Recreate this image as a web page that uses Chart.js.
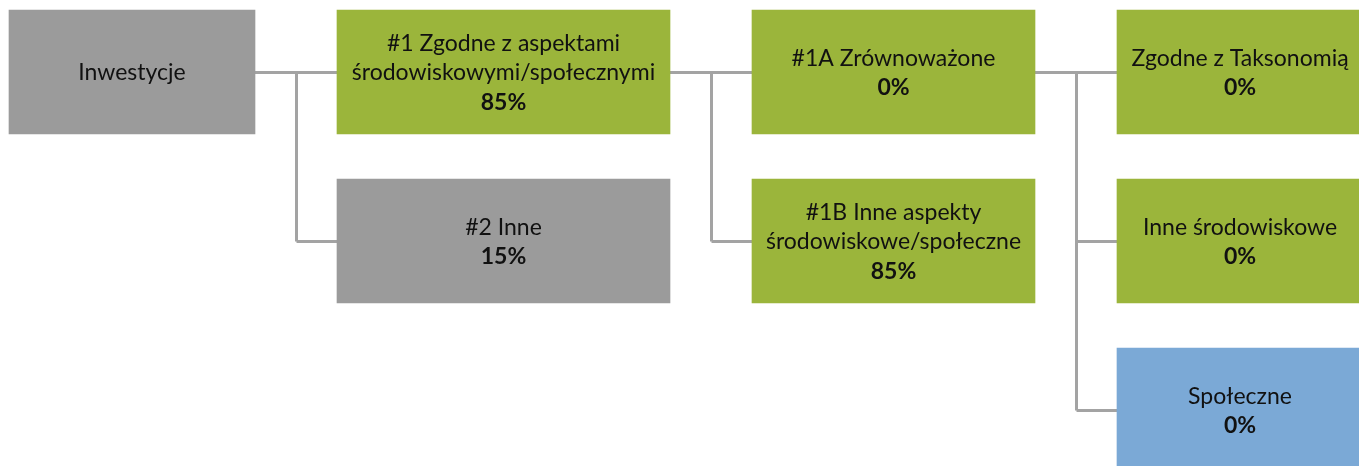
<!DOCTYPE html>
<html>
<head>
<meta charset="utf-8">
<script src="https://cdn.jsdelivr.net/npm/chart.js@4/dist/chart.umd.min.js"></script>
<style>
  body { margin: 0; background: #fff; }
  #wrap { width: 1359px; height: 466px; }
</style>
</head>
<body>
<div id="wrap"><canvas id="tree"></canvas></div>
<script>
// tree nodes
const names = [
  'Inwestycje',
  '#1 Zgodne z aspektami\nśrodowiskowymi/społecznymi',
  '#2 Inne',
  '#1A Zrównoważone',
  '#1B Inne aspekty\nśrodowiskowe/społeczne',
  'Zgodne z Taksonomią',
  'Inne środowiskowe',
  'Społeczne'
];
const shares = [null, 85, 15, 0, 85, 0, 0, 0];
const parents = [-1, 0, 0, 1, 1, 3, 3, 3];
const kinds = ['other', 'esg', 'other', 'esg', 'esg', 'esg', 'esg', 'social'];

// layout (per tree level)
const colLeft = [9, 337, 752, 1117];
const colWidth = [246, 333, 283, 246];
const colors = { other: '#9B9B9B', esg: '#9BB53B', social: '#7BA9D6' };
const lineColor = '#A3A3A3';
const font = 'Lato, "Open Sans", sans-serif';
const fontSize = 23;
const lineHeight = 29.5;

// depth and row of each node
const depth = [], row = [];
const childCount = {};
parents.forEach((p, i) => {
  if (p < 0) { depth[i] = 0; row[i] = 0; return; }
  depth[i] = depth[p] + 1;
  childCount[p] = (childCount[p] || 0);
  row[i] = row[p] + childCount[p];
  childCount[p]++;
});

const boxes = names.map((n, i) => ({
  x: [colLeft[depth[i]], colLeft[depth[i]] + colWidth[depth[i]]],
  y: row[i]
}));

const connectors = {
  id: 'connectors',
  beforeDatasetsDraw(chart) {
    const { ctx, scales: { x, y } } = chart;
    ctx.save();
    ctx.strokeStyle = lineColor;
    ctx.lineWidth = 3;
    Object.keys(childCount).forEach(key => {
      const p = +key;
      const kids = parents.map((q, i) => q === p ? i : -1).filter(i => i >= 0);
      const d = depth[p];
      const px = x.getPixelForValue(colLeft[d] + colWidth[d]);
      const cl = x.getPixelForValue(colLeft[d + 1]);
      const mx = Math.round((px + cl) / 2) + 0.5;
      const py = Math.round(y.getPixelForValue(row[p])) + 0.5;
      const lastY = Math.round(y.getPixelForValue(Math.max(...kids.map(k => row[k])))) + 0.5;
      ctx.beginPath();
      ctx.moveTo(px, py);
      ctx.lineTo(mx, py);
      ctx.moveTo(mx, py);
      ctx.lineTo(mx, lastY);
      kids.forEach(k => {
        const ky = Math.round(y.getPixelForValue(row[k])) + 0.5;
        ctx.moveTo(mx, ky);
        ctx.lineTo(cl, ky);
      });
      ctx.stroke();
    });
    ctx.restore();
  }
};

const boxText = {
  id: 'boxText',
  afterDatasetsDraw(chart) {
    const { ctx } = chart;
    const meta = chart.getDatasetMeta(0);
    ctx.save();
    ctx.fillStyle = '#111';
    ctx.textAlign = 'center';
    ctx.textBaseline = 'middle';
    meta.data.forEach((bar, i) => {
      const cx = (bar.x + bar.base) / 2;
      const cy = bar.y + 1;
      const lines = names[i].split('\n').map(t => ({ t, bold: false }));
      if (shares[i] !== null) lines.push({ t: shares[i] + '%', bold: true });
      const top = cy - (lines.length - 1) * lineHeight / 2;
      lines.forEach((l, j) => {
        ctx.font = (l.bold ? 'bold ' : '') + fontSize + 'px ' + font;
        ctx.fillText(l.t, cx, top + j * lineHeight);
      });
    });
    ctx.restore();
  }
};

new Chart(document.getElementById('tree'), {
  type: 'bar',
  data: {
    datasets: [{
      data: boxes,
      backgroundColor: kinds.map(k => colors[k]),
      borderWidth: 0,
      barThickness: 124
    }]
  },
  options: {
    indexAxis: 'y',
    responsive: true,
    maintainAspectRatio: false,
    animation: false,
    layout: { padding: 0 },
    plugins: { legend: { display: false }, tooltip: { enabled: false } },
    scales: {
      x: { type: 'linear', min: 0, max: 1359, display: false },
      y: { type: 'linear', min: -0.426, max: 2.331, reverse: true, offset: false, display: false }
    }
  },
  plugins: [connectors, boxText]
});
</script>
</body>
</html>
